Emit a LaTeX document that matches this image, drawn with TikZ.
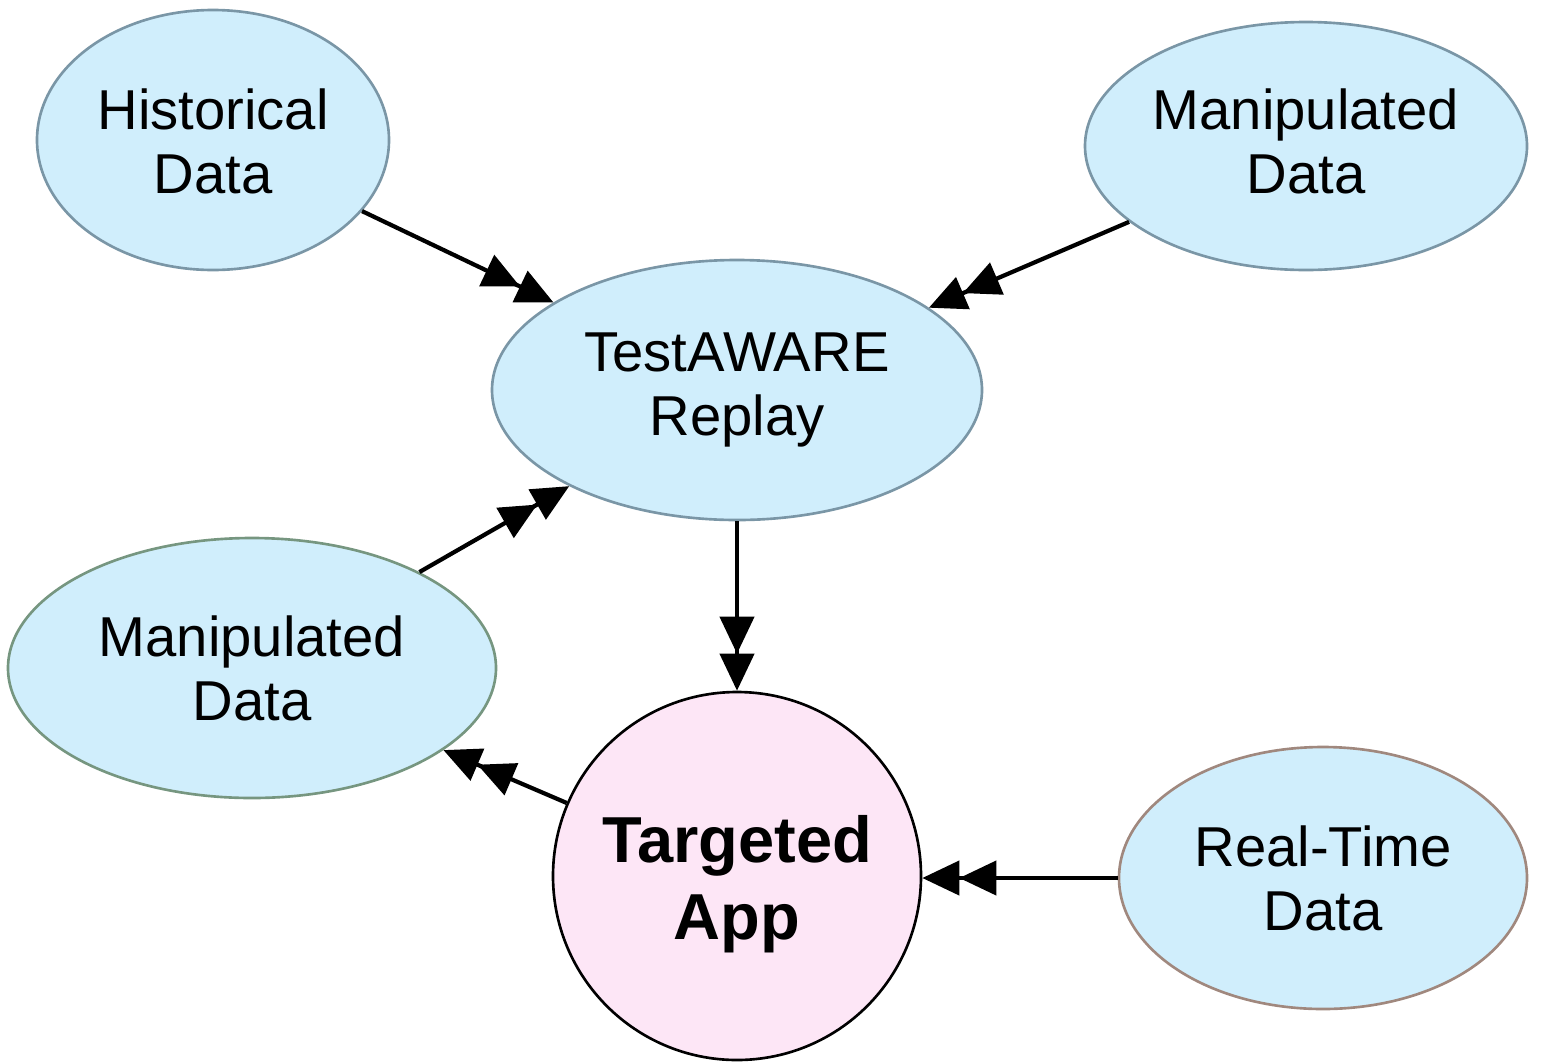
\documentclass[tikz,border=0pt]{standalone}
\usepackage{fontspec}
\setmainfont{Liberation Sans}
\usetikzlibrary{shapes.geometric,arrows.meta}
\definecolor{blobfill}{RGB}{208,238,252}
\definecolor{appfill}{RGB}{253,230,246}
\definecolor{edgeblue}{RGB}{122,150,166}
\definecolor{edgegreen}{RGB}{118,150,128}
\definecolor{edgebrown}{RGB}{160,136,126}
\tikzset{
  blob/.style={ellipse, draw=edgeblue, fill=blobfill, line width=1.5pt, inner sep=0pt},
  txt/.style={align=center, font=\fontsize{32}{36.4}\selectfont, inner sep=0pt},
  apptxt/.style={align=center, font=\fontsize{37}{44}\selectfont\bfseries, inner sep=0pt},
  conn/.style={line width=2.4pt, -{Triangle[length=0.74cm,width=0.68cm,sep=0pt]Triangle[length=0.74cm,width=0.68cm]}}
}
\begin{document}
\begin{tikzpicture}[x=0.02cm,y=-0.02cm]
\useasboundingbox (0,0) rectangle (1541,1062);
\node[blob, minimum width=352*0.02cm, minimum height=260*0.02cm] (hist) at (213,140) {};
\node[txt] (histT) at (213,141) {Historical\\Data};
\node[blob, minimum width=442*0.02cm, minimum height=248*0.02cm] (mtop) at (1306,146) {};
\node[txt] (mtopT) at (1306,141) {Manipulated\\Data};
\node[blob, minimum width=490*0.02cm, minimum height=260*0.02cm] (replay) at (737,390) {};
\node[txt] (replayT) at (737,390) {TestAWARE\\Replay};
\node[blob, draw=edgegreen, minimum width=488*0.02cm, minimum height=260*0.02cm] (mleft) at (252,668) {};
\node[txt] (mleftT) at (252,668) {Manipulated\\Data};
\node[circle, draw=black, fill=appfill, line width=1.5pt, inner sep=0pt, minimum size=368*0.02cm] (app) at (737,876) {};
\node[apptxt] (appT) at (737,884) {Targeted\\App};
\node[blob, draw=edgebrown, minimum width=408*0.02cm, minimum height=262*0.02cm] (rt) at (1323,878) {};
\node[txt] (rtT) at (1323,878) {Real-Time\\Data};
\draw[conn] (hist) -- (replay);
\draw[conn] (mtop) -- (replay);
\draw[conn] (mleft) -- (replay);
\draw[conn] (replay) -- (app);
\draw[conn] (app) -- (mleft);
\draw[conn] (rt) -- (rt -| app.east);
\end{tikzpicture}
\end{document}
